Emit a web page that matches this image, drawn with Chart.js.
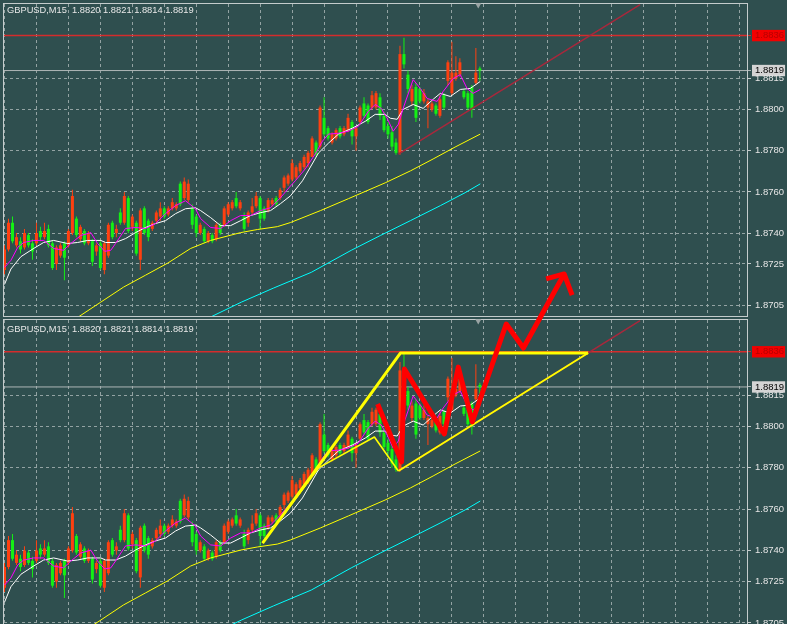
<!DOCTYPE html>
<html>
<head>
<meta charset="utf-8">
<script src="https://cdn.jsdelivr.net/npm/chart.js@4.4.1/dist/chart.umd.min.js"></script>
<style>
html,body{margin:0;padding:0;width:787px;height:624px;overflow:hidden;background:#2F4F4F;}
.wrap{position:absolute;left:0;width:787px;}
canvas{display:block;}
.ttl{position:absolute;left:7px;font-family:"Liberation Sans",Arial,sans-serif;font-size:9.3px;line-height:11px;color:#E8E8E8;white-space:pre;}
</style>
</head>
<body>
<div class="wrap" style="top:0;height:320px"><canvas id="cTop" width="787" height="320"></canvas></div>
<div class="wrap" style="top:250px;height:390px"><canvas id="cBot" width="787" height="390"></canvas></div>
<div class="ttl" id="t1" style="top:5px"></div>
<div class="ttl" id="t2" style="top:324px"></div>
<script>
// ---------------- data ----------------
const symbol = 'GBPUSD';
const timeframe = 'M15';

const open = [1.8722,1.8732,1.8745,1.8734,1.8736,1.8733,1.8739,1.8735,1.8735,1.8741,
 1.8738,1.8742,1.8735,1.8725,1.8729,1.8735,1.8734,1.8740,1.8747,1.8737,
 1.8741,1.8735,1.8736,1.8731,1.8735,1.8722,1.8729,1.8745,1.8740,1.8750,
 1.8745,1.8757,1.8743,1.8745,1.8727,1.8752,1.8746,1.8742,1.8746,1.8748,
 1.8752,1.8749,1.8752,1.8752,1.8764,1.8757,1.8756,1.8752,1.8748,1.8740,
 1.8742,1.8736,1.8739,1.8737,1.8744,1.8744,1.8749,1.8752,1.8757,1.8752,
 1.8748,1.8745,1.8750,1.8753,1.8757,1.8752,1.8751,1.8754,1.8757,1.8757,
 1.8762,1.8764,1.8766,1.8767,1.8770,1.8772,1.8774,1.8777,1.8784,1.8782,
 1.8796,1.8791,1.8784,1.8786,1.8791,1.8788,1.8790,1.8794,1.8787,1.8794,
 1.8803,1.8802,1.8801,1.8801,1.8806,1.8797,1.8792,1.8789,1.8784,1.8779,
 1.8827,1.8817,1.8804,1.8811,1.8810,1.8804,1.8801,1.8800,1.8802,1.8797,
 1.8807,1.8814,1.8808,1.8815,1.8817,1.8809,1.8808,1.8811,1.8813,1.8820];

const high = [1.8734,1.8747,1.8748,1.8740,1.8738,1.8742,1.8740,1.8737,1.8745,1.8743,
 1.8745,1.8744,1.8736,1.8734,1.8735,1.8736,1.8742,1.8761,1.8748,1.8744,
 1.8742,1.8741,1.8737,1.8735,1.8736,1.8736,1.8745,1.8746,1.8744,1.8752,
 1.8760,1.8758,1.8749,1.8746,1.8752,1.8753,1.8747,1.8746,1.8751,1.8755,
 1.8753,1.8753,1.8757,1.8755,1.8765,1.8767,1.8766,1.8754,1.8749,1.8745,
 1.8743,1.8741,1.8740,1.8745,1.8745,1.8753,1.8755,1.8756,1.8760,1.8756,
 1.8750,1.8751,1.8757,1.8760,1.8758,1.8753,1.8757,1.8757,1.8758,1.8762,
 1.8768,1.8769,1.8776,1.8773,1.8775,1.8778,1.8780,1.8787,1.8785,1.8802,
 1.8806,1.8792,1.8789,1.8791,1.8792,1.8792,1.8798,1.8795,1.8792,1.8802,
 1.8806,1.8803,1.8809,1.8809,1.8808,1.8799,1.8794,1.8792,1.8786,1.8831,
 1.8835,1.8819,1.8812,1.8813,1.8811,1.8810,1.8805,1.8804,1.8803,1.8807,
 1.8808,1.8824,1.8833,1.8826,1.8825,1.8810,1.8809,1.8812,1.8830,1.8821];

const low = [1.8720,1.8731,1.8735,1.8733,1.8730,1.8732,1.8733,1.8727,1.8734,1.8736,
 1.8737,1.8733,1.8722,1.8722,1.8728,1.8717,1.8733,1.8739,1.8738,1.8736,
 1.8734,1.8734,1.8724,1.8729,1.8722,1.8720,1.8728,1.8737,1.8738,1.8744,
 1.8744,1.8740,1.8741,1.8729,1.8722,1.8739,1.8736,1.8741,1.8745,1.8746,
 1.8747,1.8748,1.8751,1.8751,1.8753,1.8756,1.8755,1.8742,1.8738,1.8739,
 1.8735,1.8735,1.8735,1.8736,1.8739,1.8743,1.8748,1.8751,1.8752,1.8751,
 1.8741,1.8743,1.8749,1.8752,1.8742,1.8746,1.8750,1.8753,1.8753,1.8756,
 1.8760,1.8763,1.8765,1.8766,1.8769,1.8771,1.8772,1.8777,1.8777,1.8781,
 1.8787,1.8785,1.8783,1.8785,1.8786,1.8787,1.8789,1.8783,1.8780,1.8793,
 1.8796,1.8793,1.8800,1.8800,1.8795,1.8789,1.8786,1.8780,1.8778,1.8778,
 1.8820,1.8808,1.8802,1.8794,1.8803,1.8803,1.8791,1.8799,1.8797,1.8796,
 1.8800,1.8812,1.8807,1.8814,1.8816,1.8805,1.8800,1.8796,1.8812,1.8814];

const close = [1.8732,1.8745,1.8736,1.8738,1.8732,1.8740,1.8734,1.8731,1.8740,1.8738,
 1.8741,1.8734,1.8723,1.8733,1.8734,1.8728,1.8741,1.8758,1.8739,1.8743,
 1.8735,1.8740,1.8726,1.8734,1.8723,1.8735,1.8744,1.8738,1.8742,1.8745,
 1.8758,1.8741,1.8748,1.8730,1.8751,1.8740,1.8738,1.8745,1.8750,1.8752,
 1.8748,1.8752,1.8755,1.8754,1.8754,1.8765,1.8764,1.8744,1.8740,1.8744,
 1.8736,1.8740,1.8736,1.8744,1.8740,1.8752,1.8754,1.8755,1.8753,1.8755,
 1.8742,1.8750,1.8753,1.8758,1.8747,1.8747,1.8756,1.8756,1.8754,1.8761,
 1.8767,1.8768,1.8774,1.8772,1.8774,1.8777,1.8779,1.8786,1.8778,1.8801,
 1.8788,1.8786,1.8788,1.8790,1.8787,1.8791,1.8796,1.8787,1.8791,1.8801,
 1.8797,1.8794,1.8807,1.8808,1.8797,1.8790,1.8788,1.8782,1.8779,1.8827,
 1.8822,1.8810,1.8810,1.8796,1.8804,1.8808,1.8804,1.8803,1.8798,1.8805,
 1.8801,1.8823,1.8818,1.8818,1.8823,1.8806,1.8801,1.8800,1.8818,1.8819];

// moving averages (bar index, price)
const whiteIdx = [0,1.6,4.1,7.3,9.8,12.3,15.8,18.3,20.8,24.1,25.3,27.8,30.3,32.8,35.3,37.8,40.3,42.8,45.3,47.8,49.1,51.6,54.1,56.6,59.1,61.6,64.1,66.6,69.1,71.6,74.6,78.6,81.1,83.6,87.1,90.3,92.8,95.3,96.6,98.3,99.8,102.3,104.8,107.3,109.1,111.6,114.1,116.6,119.1];
const whiteVal = [1.87150,1.87225,1.87285,1.87325,1.87354,1.87364,1.87349,1.87354,1.87364,1.87364,1.87354,1.87354,1.87373,1.87402,1.87427,1.87446,1.87460,1.87494,1.87518,1.87523,1.87509,1.87475,1.87436,1.87436,1.87460,1.87485,1.87499,1.87509,1.87543,1.87581,1.87654,1.87789,1.87837,1.87881,1.87910,1.87943,1.87977,1.87977,1.87958,1.87953,1.88001,1.88025,1.88006,1.88050,1.88079,1.88064,1.88098,1.88103,1.88137];

const magIdx = [0,1.6,3.3,4.8,7.3,9.8,12.3,14.8,16.6,19.1,21.6,23.3,25.1,26.6,27.8,30.3,32.8,35.3,37.8,40.3,42.8,45.3,47.8,49.1,51.6,54.1,56.6,59.1,61.6,64.1,66.6,69.1,71.6,72.8,75.3,77.8,79.6,81.1,83.6,86.1,88.6,91.1,92.8,94.3,95.8,97.3,98.6,99.8,102.3,104.1,105.8,108.3,109.8,112.3,114.1,115.8,117.3,119.1];
const magVal = [1.87233,1.87267,1.87330,1.87354,1.87364,1.87364,1.87325,1.87316,1.87349,1.87388,1.87402,1.87349,1.87311,1.87316,1.87349,1.87422,1.87427,1.87422,1.87446,1.87494,1.87533,1.87557,1.87518,1.87470,1.87427,1.87422,1.87460,1.87485,1.87485,1.87509,1.87523,1.87572,1.87629,1.87654,1.87712,1.87784,1.87847,1.87881,1.87885,1.87895,1.87919,1.87992,1.88025,1.88006,1.87958,1.87895,1.87929,1.88006,1.88146,1.88103,1.88054,1.88040,1.88088,1.88151,1.88170,1.88103,1.88079,1.88098];

const yelIdx = [18.1,24.1,29.8,35.3,40.8,46.6,51.6,59.1,63.3,68.3,71.6,79.1,86.1,95.3,101.6,107.3,112.8,119.1];
const yelVal = [1.86987,1.87064,1.87137,1.87195,1.87253,1.87325,1.87364,1.87402,1.87417,1.87431,1.87451,1.87509,1.87567,1.87644,1.87702,1.87760,1.87818,1.87881];

const cyanIdx = [51.1,59.3,67.3,76.8,86.8,94.1,101.6,109.1,115.3,119.1];
const cyanVal = [1.86987,1.87064,1.87132,1.87209,1.87316,1.87388,1.87460,1.87533,1.87596,1.87639];

// horizontal levels and trend line
const redLevel = 1.8836;
const bidLevel = 1.8819;
const trendIdx = [98.6, 159.1];
const trendVal = [1.87784, 1.8851];
const shiftIdx = [118.6];
const shiftVal = [1.88509];

// right axis tick labels
const yTickLabels = [1.8815, 1.8800, 1.8780, 1.8760, 1.8740, 1.8725, 1.8705];

// drawn annotations on the lower panel
const triThickIdx = [64.6, 99.1, 146.1];
const triThickVal = [1.87436, 1.88354, 1.88354];
const triLowIdx = [98.6, 146.1];
const triLowVal = [1.87784, 1.88354];
const triThinIdx = [64.6, 78.6, 92.6, 98.6];
const triThinVal = [1.87436, 1.87799, 1.87948, 1.87784];
const zigIdx = [93.4, 99.4, 100.1, 110.1, 113.6, 117.1, 125.6, 129.9, 140.1];
const zigVal = [1.88108, 1.87828, 1.88277, 1.87963, 1.88286, 1.88021, 1.88494, 1.88378, 1.88736];
const headIdx = [135.6, 140.1, 142.1];
const headVal = [1.88712, 1.88736, 1.88634];

// ---------------- chart ----------------
const RED_BAR = '#FF4010', GREEN_BAR = '#14F014';
const GRID = '#93A3A3';
const yMin = 1.869966, yMax = 1.885135;
const xMin = -0.125, xMax = 185.875;
const last = open.length - 1;

const ttl = `${symbol},${timeframe}  ${open[last].toFixed(4)} ${high[last].toFixed(4)} ${low[last].toFixed(4)} ${close[last].toFixed(4)}`;
document.getElementById('t1').textContent = ttl;
document.getElementById('t2').textContent = ttl;

Chart.defaults.font.family = "'Liberation Sans', Arial, sans-serif";

function pts(xs, ys) { return xs.map((x, k) => ({x: x, y: ys[k]})); }
const barIdx = open.map((_, i) => i);
function candleColor(i) { return close[i] > open[i] ? RED_BAR : GREEN_BAR; }

function lineDs(data, color, width, order, extra) {
  return Object.assign({type: 'line', data: data, borderColor: color, borderWidth: width,
    pointRadius: 0, fill: false, tension: 0, order: order,
    borderJoinStyle: 'round', borderCapStyle: 'butt'}, extra || {});
}

function isRed(v) { return Math.abs(v - redLevel) < 1e-7; }
function isBid(v) { return Math.abs(v - bidLevel) < 1e-7; }

const framePlugin = {
  id: 'frame',
  beforeDatasetsDraw(chart) {
    const {ctx, chartArea: a} = chart;
    ctx.save();
    ctx.strokeStyle = '#C4CCCC';
    ctx.lineWidth = 1;
    ctx.strokeRect(a.left - 0.5, a.top - 0.5, a.right - a.left + 1, a.bottom - a.top + 1);
    ctx.restore();
  }
};

function makeChart(id, padTop, padBottom, extra) {
  const datasets = [
    {type: 'bar', data: barIdx.map(i => ({x: i, y: [low[i], high[i]]})),
     backgroundColor: c => candleColor(c.dataIndex), borderWidth: 0, grouped: false,
     barPercentage: 1, categoryPercentage: 1, barThickness: 1, maxBarThickness: 1, inflateAmount: 0, order: 20},
    {type: 'bar', data: barIdx.map(i => ({x: i, y: [open[i], close[i]]})),
     backgroundColor: c => candleColor(c.dataIndex), borderWidth: 0, grouped: false,
     barPercentage: 1, categoryPercentage: 1, barThickness: 3, maxBarThickness: 3, inflateAmount: 0, order: 19},
    lineDs(pts(cyanIdx, cyanVal), '#00FFFF', 1, 15),
    lineDs(pts(yelIdx, yelVal), '#FFFF00', 1, 15),
    lineDs(pts(whiteIdx, whiteVal), '#FFFFFF', 1, 14),
    lineDs(pts(magIdx, magVal), '#FF00FF', 1, 13),
    lineDs([{x: xMin, y: redLevel}, {x: xMax, y: redLevel}], '#D42C2C', 1.5, 25),
    lineDs([{x: xMin, y: bidLevel}, {x: xMax, y: bidLevel}], '#AEB6B6', 1, 25),
    lineDs(pts(trendIdx, trendVal), '#A8283C', 1.5, 12),
    {type: 'line', data: pts(shiftIdx, shiftVal), showLine: false, pointRadius: 3.5,
     pointStyle: 'triangle', rotation: 180, pointBackgroundColor: '#9AA4A4',
     pointBorderWidth: 0, order: 0, clip: false}
  ].concat(extra);

  return new Chart(document.getElementById(id), {
    type: 'bar',
    data: {datasets: datasets},
    plugins: [framePlugin],
    options: {
      responsive: false,
      devicePixelRatio: 1,
      animation: false,
      events: [],
      layout: {padding: {left: 3, top: padTop, right: 0, bottom: padBottom}},
      plugins: {legend: {display: false}, tooltip: {enabled: false}, title: {display: false}},
      scales: {
        x: {
          type: 'linear', min: xMin, max: xMax, offset: false, bounds: 'data',
          grid: {color: GRID, drawTicks: false, offset: false, lineWidth: 1},
          border: {display: false, dash: [3, 3]},
          ticks: {display: false},
          afterBuildTicks: s => { const t = []; for (let v = 0; v <= xMax; v += 8) t.push({value: v}); s.ticks = t; },
          afterFit: s => { s.height = 0; s.paddingLeft = 0; s.paddingRight = 0; }
        },
        y: {
          type: 'linear', position: 'right', min: yMin, max: yMax, stacked: false, bounds: 'data',
          grid: {
            color: c => (c.tick && (isRed(c.tick.value) || isBid(c.tick.value))) ? 'rgba(0,0,0,0)' : GRID,
            tickColor: c => c.tick && isRed(c.tick.value) ? '#D42C2C' : (c.tick && isBid(c.tick.value) ? '#AEB6B6' : '#C4CCCC'),
            tickLength: 4, drawTicks: true, lineWidth: 1
          },
          border: {display: false, dash: [3, 3]},
          ticks: {
            autoSkip: false, padding: 4,
            font: {size: 9.5},
            color: c => isRed(c.tick.value) ? '#B80000' : (isBid(c.tick.value) ? '#000000' : '#E6E6E6'),
            showLabelBackdrop: c => isRed(c.tick.value) || isBid(c.tick.value),
            backdropColor: c => isRed(c.tick.value) ? '#F20000' : '#D4D4D4',
            backdropPadding: {left: 3, right: 1, top: 0, bottom: 0},
            callback: v => Number(v).toFixed(4)
          },
          afterBuildTicks: s => { s.ticks = [redLevel, bidLevel].concat(yTickLabels).map(v => ({value: v})); },
          afterFit: s => { s.width = 40; s.paddingTop = 0; s.paddingBottom = 0; }
        }
      }
    }
  });
}

makeChart('cTop', 2, 4, []);

makeChart('cBot', 70, 6, [
  lineDs(pts(triThinIdx, triThinVal), '#FFFF00', 1.6, 3),
  lineDs(pts(triLowIdx, triLowVal), '#FFFF00', 2, 2),
  lineDs(pts(triThickIdx, triThickVal), '#FFFF00', 3, 2),
  lineDs(pts(zigIdx, zigVal), '#FF0000', 5, 1, {clip: false}),
  lineDs(pts(headIdx, headVal), '#FF0000', 5, 1, {clip: false})
]);
</script>
</body>
</html>
